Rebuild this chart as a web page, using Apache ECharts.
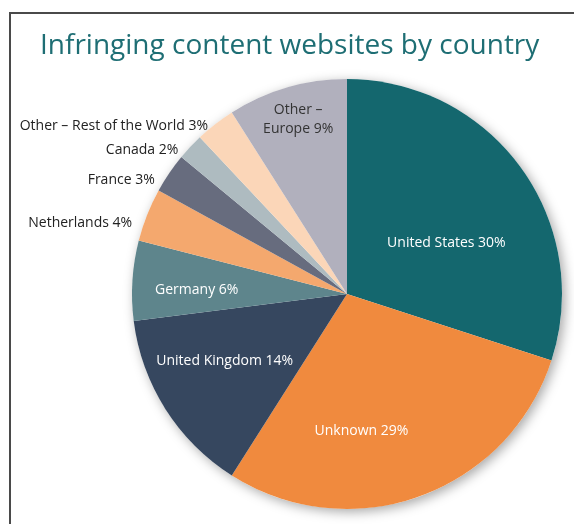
<!DOCTYPE html>
<html>
<head>
<meta charset="utf-8">
<script src="https://cdn.jsdelivr.net/npm/echarts@6/dist/echarts.min.js"></script>
<style>
  html, body { margin: 0; padding: 0; background: #fff; }
  #chart { width: 574px; height: 524px; }
</style>
</head>
<body>
<div id="chart"></div>
<script>
// slices, clockwise from 12 o'clock
var countries = ['United States', 'Unknown', 'United Kingdom', 'Germany', 'Netherlands',
                 'France', 'Canada', 'Other – Rest of the World', 'Other –\nEurope'];
var shares = [30, 29, 14, 6, 4, 3, 2, 3, 9];
var colors = ['#14676e', '#f08a3e', '#36475f', '#5e858c', '#f4a86e',
              '#676c7e', '#aebbc0', '#fbd6b8', '#b1b0bd'];

// which labels sit outside the pie
var outside = [false, false, false, false, true, true, true, true, false];
// small nudges for label placement
var nudge = [[10, 14], [-23, 33], [-29, 8], [-40, 3], [4, 14], [3, 15], [4, 13], [7, 14], [-18, -68]];

var chart = echarts.init(document.getElementById('chart'));

var pieData = countries.map(function (name, i) {
    var item = {
        name: name,
        value: shares[i],
        itemStyle: { color: colors[i] }
    };
    if (outside[i]) {
        item.label = { position: 'outside', color: '#222' };
        item.labelLine = { show: false, length: 15, length2: 0 };
    } else {
        item.label = { position: 'inside', color: i === 8 ? '#333' : '#fff' };
    }
    return item;
});

var option = {
    animation: false,
    title: {
        text: 'Infringing content websites by country',
        left: 35,
        top: 27,
        textStyle: {
            fontFamily: 'Open Sans',
            fontWeight: 'normal',
            fontSize: 28,
            color: '#1e6e74'
        }
    },
    graphic: [{
        type: 'polyline',
        shape: { points: [[10, 524], [10, 13], [574, 13]] },
        style: { stroke: '#4a4a4a', lineWidth: 2, fill: null }
    }],
    series: [
        {
            // shadow disc under the pie
            type: 'pie',
            silent: true,
            center: [347, 294],
            radius: 215,
            label: { show: false },
            labelLine: { show: false },
            itemStyle: {
                color: '#fff',
                shadowBlur: 12,
                shadowOffsetX: 3,
                shadowOffsetY: 3,
                shadowColor: 'rgba(0,0,0,0.35)'
            },
            data: [100],
            z: 1
        },
        {
            type: 'pie',
            center: [347, 294],
            radius: 215,
            startAngle: 90,
            clockwise: true,
            avoidLabelOverlap: false,
            label: {
                show: true,
                fontFamily: 'Open Sans',
                fontSize: 14,
                lineHeight: 19,
                formatter: '{b} {c}%'
            },
            labelLayout: function (p) {
                return { dx: nudge[p.dataIndex][0], dy: nudge[p.dataIndex][1] };
            },
            data: pieData,
            z: 2
        }
    ]
};

chart.setOption(option);
</script>
</body>
</html>
